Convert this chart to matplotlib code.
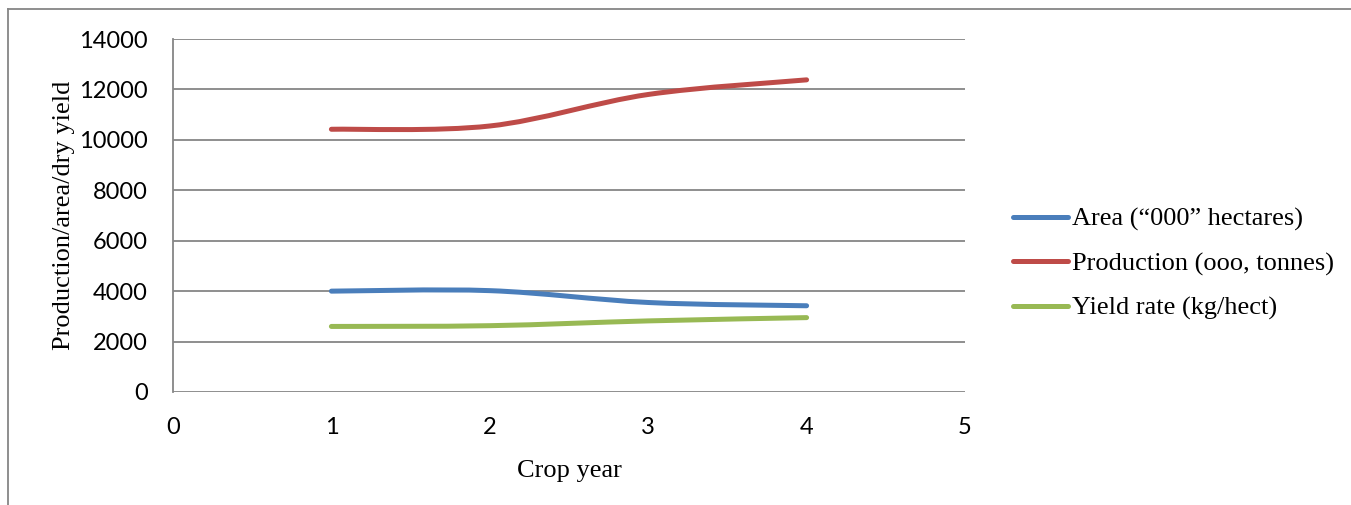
import matplotlib.pyplot as plt
from matplotlib.path import Path
from matplotlib.patches import PathPatch
from matplotlib.lines import Line2D

years = [1, 2, 3, 4]
area = [4000, 4020, 3550, 3420]
production = [10420, 10550, 11800, 12380]
yield_rate = [2600, 2630, 2820, 2950]

labels = ['Area (\u201c000\u201d hectares)', 'Production (ooo, tonnes)', 'Yield rate (kg/hect)']
colors = ['#4a7ebb', '#be4b48', '#98b954']


def smooth_path(xs, ys):
    # excel style smoothed line: cubic bezier segments, catmull-rom tangents
    pts = list(zip(xs, ys))
    verts = [pts[0]]
    codes = [Path.MOVETO]
    n = len(pts)
    for i in range(n - 1):
        p0 = pts[i - 1] if i > 0 else pts[i]
        p1 = pts[i]
        p2 = pts[i + 1]
        p3 = pts[i + 2] if i + 2 < n else pts[i + 1]
        c1 = (p1[0] + (p2[0] - p0[0]) / 6, p1[1] + (p2[1] - p0[1]) / 6)
        c2 = (p2[0] - (p3[0] - p1[0]) / 6, p2[1] - (p3[1] - p1[1]) / 6)
        verts += [c1, c2, p2]
        codes += [Path.CURVE4] * 3
    return Path(verts, codes)


fig = plt.figure(figsize=(13.51, 5.05), dpi=100)
ax = fig.add_axes([173 / 1351, 1 - 392 / 505, (965 - 173) / 1351, (392 - 39) / 505])

for ys, c in zip([area, production, yield_rate], colors):
    patch = PathPatch(smooth_path(years, ys), facecolor='none', edgecolor=c,
                      lw=3.6, capstyle='round', joinstyle='round', zorder=3)
    ax.add_patch(patch)

ax.set_xlim(0, 5)
ax.set_ylim(0, 14000)
ax.set_xticks(range(0, 6))
ax.set_yticks(range(0, 14001, 2000))
ax.yaxis.grid(True, color='#868686', lw=1.3)
ax.set_axisbelow(True)
for s in ['top', 'right', 'bottom']:
    ax.spines[s].set_visible(False)
ax.spines['left'].set_color('#868686')
ax.spines['left'].set_linewidth(1.3)
ax.tick_params(length=0, labelsize=17)
ax.tick_params(axis='y', pad=18)
ax.tick_params(axis='x', pad=18)
for t in ax.get_xticklabels() + ax.get_yticklabels():
    t.set_fontfamily('Lato')

ax.set_xlabel('Crop year', family='Liberation Serif', fontsize=19, labelpad=16)
ax.set_ylabel('Production/area/dry yield', family='Liberation Serif', fontsize=19, labelpad=3)

handles = [Line2D([], [], color=c, lw=3.6, solid_capstyle='round') for c in colors]
fig.legend(handles, labels, loc='upper left', bbox_to_anchor=(1002 / 1351, 1 - 197 / 505),
           frameon=False, prop={'family': 'Liberation Serif', 'size': 19},
           handlelength=2.1, handletextpad=0.15, labelspacing=0.78, borderaxespad=0)

# thin frame lines on left and top
fig.add_artist(Line2D([8 / 1351, 8 / 1351], [0, 1 - 9 / 505], transform=fig.transFigure, color='#868686', lw=1.3))
fig.add_artist(Line2D([8 / 1351, 1], [1 - 9 / 505, 1 - 9 / 505], transform=fig.transFigure, color='#868686', lw=1.3))

fig.savefig('out.png', dpi=100)
